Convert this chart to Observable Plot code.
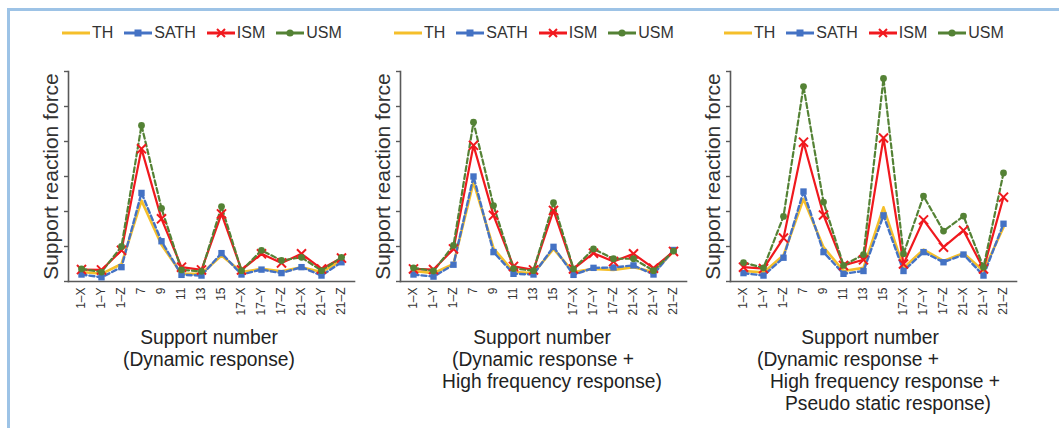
<!DOCTYPE html>
<html><head><meta charset="utf-8">
<script src="https://cdn.jsdelivr.net/npm/d3@7"></script>
<script src="https://cdn.jsdelivr.net/npm/@observablehq/plot@0.6"></script>
<style>
body{margin:0;background:#fff;font-family:"Liberation Sans",Arial,sans-serif;}
#root{position:relative;width:1059px;height:428px;overflow:hidden;background:#fff}
.bt{position:absolute;left:7px;top:8px;width:1052px;height:3px;background:#9dc3e6}
.bl{position:absolute;left:7px;top:8px;width:3px;height:420px;background:#9dc3e6}
.panel{position:absolute;top:60px}
.legend{position:absolute;top:24px;height:18px;display:flex;align-items:center;font-size:16px;color:#333;white-space:nowrap}
.legend .it{display:flex;align-items:center;margin-right:11px}
.legend svg{margin-right:2px}
.cap{position:absolute;font-size:20px;line-height:22px;color:#222;white-space:nowrap;transform:translateX(-50%) scaleX(0.96)}
</style></head>
<body><div id="root"><div class="bt"></div><div class="bl"></div></div>
<script>
// categories (support numbers)
const cats = ["1–X","1–Y","1–Z","7","9","11","13","15","17–X","17–Y","17–Z","21–X","21–Y","21–Z"];
const seriesNames = ["TH","SATH","ISM","USM"];

// Panel 1: Dynamic response
const p1TH   = [0.27,0.22,0.50,2.31,1.05,0.22,0.22,0.74,0.27,0.36,0.29,0.41,0.27,0.60];
const p1SATH = [0.20,0.12,0.41,2.53,1.15,0.19,0.17,0.81,0.20,0.34,0.24,0.41,0.17,0.55];
const p1ISM  = [0.34,0.33,0.89,3.79,1.79,0.41,0.33,1.93,0.33,0.79,0.53,0.79,0.36,0.67];
const p1USM  = [0.36,0.27,1.00,4.46,2.09,0.33,0.29,2.14,0.31,0.89,0.60,0.69,0.31,0.69];
// Panel 2: Dynamic + High frequency
const p2TH   = [0.30,0.24,0.50,2.84,0.95,0.27,0.24,0.93,0.27,0.36,0.33,0.41,0.27,0.86];
const p2SATH = [0.20,0.14,0.48,3.00,0.84,0.22,0.20,0.99,0.19,0.39,0.40,0.46,0.20,0.90];
const p2ISM  = [0.36,0.34,0.93,3.89,1.89,0.43,0.33,2.03,0.36,0.81,0.57,0.79,0.38,0.86];
const p2USM  = [0.39,0.30,1.03,4.55,2.17,0.37,0.31,2.25,0.36,0.93,0.65,0.65,0.31,0.87];
// Panel 3: Dynamic + High frequency + Pseudo static
const p3TH   = [0.30,0.26,0.75,2.36,0.98,0.30,0.39,2.12,0.39,0.91,0.59,0.81,0.30,1.55];
const p3SATH = [0.24,0.17,0.68,2.57,0.84,0.22,0.30,1.89,0.30,0.84,0.55,0.77,0.17,1.65];
const p3ISM  = [0.41,0.37,1.24,3.98,1.90,0.46,0.62,4.10,0.50,1.76,0.98,1.46,0.36,2.41];
const p3USM  = [0.54,0.39,1.86,5.57,2.27,0.46,0.77,5.80,0.79,2.44,1.44,1.87,0.41,3.10];

const yTicks = [0,1,2,3,4,5,6];
const yLabel = "Support reaction force";
const cap1 = ["Support number","(Dynamic response)"];
const cap2 = ["Support number","(Dynamic response +","High frequency response)"];
const cap3 = ["Support number","(Dynamic response +","High frequency response +","Pseudo static response)"];

const styles = {
  TH:   {color:"#f5bf2a", width:2.6, dash:null, symbol:null},
  SATH: {color:"#4472c4", width:2.4, dash:"5,3", symbol:"square"},
  ISM:  {color:"#f0191e", width:2.2, dash:null, symbol:"times"},
  USM:  {color:"#548235", width:2.2, dash:"5,3", symbol:"circle"}
};

const panels = [
  {left:0,   vals:[p1TH,p1SATH,p1ISM,p1USM], cap:cap1, capX:[209,209], leg:62},
  {left:332, vals:[p2TH,p2SATH,p2ISM,p2USM], cap:cap2, capX:[542,543,552], leg:394},
  {left:662, vals:[p3TH,p3SATH,p3ISM,p3USM], cap:cap3, capX:[870,848,885,888], leg:724}
];

const root = document.getElementById("root");

function legendSwatch(name){
  const s = styles[name];
  const w = 28, h = 14;
  let m = "";
  if (s.symbol === "square") m = `<rect x="${w/2-3.5}" y="${h/2-3.5}" width="7" height="7" fill="${s.color}"/>`;
  if (s.symbol === "times") m = `<path d="M${w/2-4},${h/2-4}L${w/2+4},${h/2+4}M${w/2+4},${h/2-4}L${w/2-4},${h/2+4}" stroke="${s.color}" stroke-width="2"/>`;
  if (s.symbol === "circle") m = `<circle cx="${w/2}" cy="${h/2}" r="3.6" fill="${s.color}"/>`;
  return `<svg width="${w}" height="${h}"><line x1="0" x2="${w}" y1="${h/2}" y2="${h/2}" stroke="${s.color}" stroke-width="3"/>${m}</svg>`;
}

panels.forEach(p => {
  const data = [];
  seriesNames.forEach((n, si) => cats.forEach((c, i) => data.push({series:n, cat:c, v:p.vals[si][i]})));
  const marks = [
    Plot.frame({anchor:"left", stroke:"#595959", strokeWidth:1.6}),
    Plot.frame({anchor:"bottom", stroke:"#595959", strokeWidth:1.6}),
    Plot.axisY({ticks:yTicks, tickFormat:() => "", tickSize:4, stroke:"#595959", strokeWidth:1.4,
      label:yLabel, labelAnchor:"center", labelArrow:"none", labelOffset:25, fontSize:21, fill:"#333"}),
    Plot.axisX({tickRotate:-90, tickSize:0, tickPadding:6, fontSize:12, fill:"#333", label:null})
  ];
  seriesNames.forEach(n => {
    const s = styles[n];
    const d = data.filter(r => r.series === n);
    marks.push(Plot.line(d, {x:"cat", y:"v", stroke:s.color, strokeWidth:s.width, strokeDasharray:s.dash}));
  });
  seriesNames.forEach(n => {
    const s = styles[n];
    const d = data.filter(r => r.series === n);
    if (s.symbol === "square") marks.push(Plot.dot(d, {x:"cat", y:"v", symbol:"square", r:3.6, fill:s.color, stroke:null}));
    if (s.symbol === "times") marks.push(Plot.dot(d, {x:"cat", y:"v", symbol:"times", r:4.2, stroke:s.color, strokeWidth:2}));
    if (s.symbol === "circle") marks.push(Plot.dot(d, {x:"cat", y:"v", symbol:"circle", r:3.4, fill:s.color, stroke:null}));
  });
  const chart = Plot.plot({
    width: 359, height: 271,
    marginLeft: 68, marginRight: 5, marginTop: 11, marginBottom: 50,
    x: {type:"point", domain:cats, padding:0.5},
    y: {domain:[0,6]},
    style: {background:"transparent", fontFamily:"'Liberation Sans', Arial, sans-serif", color:"#333", overflow:"visible"},
    marks
  });
  const wrap = document.createElement("div");
  wrap.className = "panel";
  wrap.style.left = p.left + "px";
  wrap.appendChild(chart);
  root.appendChild(wrap);

  const leg = document.createElement("div");
  leg.className = "legend";
  leg.style.left = p.leg + "px";
  leg.innerHTML = seriesNames.map(n => `<span class="it">${legendSwatch(n)}<span>${n}</span></span>`).join("");
  root.appendChild(leg);

  p.cap.forEach((t, i) => {
    const c = document.createElement("div");
    c.className = "cap";
    c.textContent = t;
    c.style.left = p.capX[i] + "px";
    c.style.top = (326 + i*22) + "px";
    root.appendChild(c);
  });
});
</script></body></html>
